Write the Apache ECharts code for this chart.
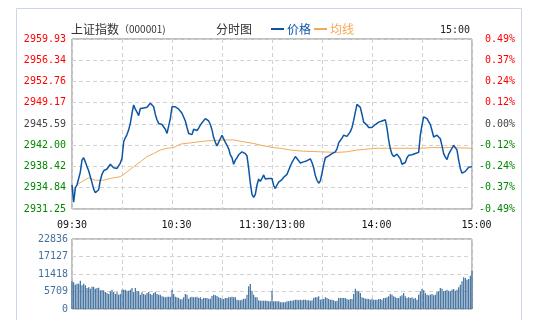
<!DOCTYPE html>
<html><head><meta charset="utf-8">
<script src="https://cdn.jsdelivr.net/npm/echarts@6/dist/echarts.min.js"></script>
<style>html,body{margin:0;padding:0;background:#fff}#c{width:535px;height:333px}</style>
</head><body><div id="c"></div>
<script>
const titleText = '上证指数';
const codeText = '（000001)';
const subTitle = '分时图';
const closeTime = '15:00';
const seriesNames = ['价格', '均线', '成交量'];
const timeLabels = ['09:30', '', '10:30', '', '11:30/13:00', '', '14:00', '', '15:00'];
const priceLabels = ['2931.25', '2934.84', '2938.42', '2942.00', '2945.59', '2949.17', '2952.76', '2956.34', '2959.93'];
const pctLabels = ['-0.49%', '-0.37%', '-0.24%', '-0.12%', '0.00%', '0.12%', '0.24%', '0.37%', '0.49%'];
const volLabels = ['0', '5709', '11418', '17127', '22836'];

// price per minute, index 0 = 09:30, 120 = 11:30/13:00, 240 = 15:00
const prices = [
2935.3,2932.4,2934.8,2935.3,2935.4,2937.5,2939.5,2939.9,2939.2,2938.4,
2937.7,2936.7,2935.7,2934.6,2934.0,2933.9,2934.5,2936.1,2937.1,2937.7,
2937.4,2938.0,2938.1,2938.8,2938.7,2938.2,2938.1,2938.1,2938.4,2939.0,
2939.8,2942.6,2943.3,2943.8,2944.6,2945.7,2947.4,2948.8,2948.1,2947.6,
2947.0,2948.2,2948.5,2948.3,2948.3,2948.4,2948.6,2949.1,2949.2,2948.5,
2947.2,2946.3,2945.7,2945.9,2945.5,2945.4,2944.7,2944.0,2943.8,2946.5,
2948.5,2948.6,2948.5,2948.3,2948.1,2947.8,2947.4,2947.2,2946.1,2945.0,
2944.0,2943.8,2943.8,2944.7,2945.0,2944.5,2944.9,2945.4,2945.8,2946.1,
2946.5,2946.4,2946.1,2945.5,2944.6,2943.3,2942.5,2941.9,2942.0,2943.1,
2943.7,2943.7,2942.5,2942.0,2941.4,2940.4,2939.9,2938.8,2939.5,2939.9,
2940.4,2940.7,2940.9,2940.8,2940.6,2940.2,2938.1,2935.6,2933.7,2933.2,
2933.7,2935.3,2936.3,2935.9,2936.4,2937.0,2936.3,2936.5,2936.4,2936.6,
2936.4,2935.2,2934.7,2935.3,2935.8,2936.0,2936.2,2936.6,2936.9,2937.1,
2937.8,2938.5,2939.1,2939.6,2940.1,2939.9,2939.4,2939.0,2939.1,2939.2,
2939.2,2939.4,2939.6,2939.7,2939.1,2938.2,2936.9,2936.1,2935.6,2936.0,
2937.3,2938.7,2939.9,2940.1,2940.2,2940.4,2940.6,2940.8,2940.9,2941.4,
2942.4,2942.8,2943.2,2943.7,2943.9,2943.5,2943.2,2944.3,2945.0,2946.2,
2947.6,2948.9,2949.2,2948.4,2947.2,2945.9,2946.2,2945.4,2945.0,2944.9,
2945.0,2945.1,2945.5,2945.7,2945.9,2946.0,2946.1,2946.3,2946.3,2944.9,
2942.9,2941.4,2940.5,2940.1,2940.4,2940.5,2940.5,2939.7,2938.8,2938.5,
2939.1,2939.9,2940.3,2940.4,2940.4,2940.5,2940.6,2940.9,2940.8,2943.7,
2945.4,2946.8,2946.9,2946.5,2946.2,2945.5,2944.5,2943.4,2943.5,2943.7,
2943.4,2943.1,2941.9,2940.6,2940.0,2939.6,2940.5,2941.0,2941.5,2942.0,
2941.6,2941.2,2939.5,2938.1,2937.3,2937.5,2937.6,2937.8,2938.3,2938.4,
2938.4
];

const avgMinutes = [0,3,6,10,14,19,23,29,33,37,41,45,49,53,57,61,65,71,79,85,91,97,103,109,115,121,125,131,139,149,159,165,171,179,183,195,210,215,229,240];
const avgPrices = [2934.0,2935.3,2935.9,2936.5,2936.1,2936.1,2936.4,2936.7,2937.5,2938.4,
2939.2,2940.1,2940.6,2941.2,2941.5,2941.6,2942.2,2942.4,2942.7,2942.8,
2942.9,2942.9,2942.6,2942.3,2941.9,2941.6,2941.5,2941.2,2941.0,2940.9,
2940.8,2940.9,2941.2,2941.4,2941.5,2941.5,2941.5,2941.6,2941.6,2941.5];

const volumes = [
9014,8688,7927,8253,8253,9231,7710,8253,7710,6840,
7057,6622,7275,7275,6622,6840,6949,6079,6079,6079,
5535,5209,4883,5752,6296,5535,4883,5427,4665,4883,
6296,6296,6296,5970,5970,6296,6840,5535,6840,5752,
5752,4665,5427,4883,4665,5209,5535,4883,4665,5209,
5535,4883,4665,4665,4121,4012,3795,4012,4012,4012,
6296,4883,4012,3795,3577,3142,3142,3795,4883,4665,
3360,3795,4012,3795,3795,4012,3577,3795,3251,3577,
3577,3577,3360,3360,4230,4665,4447,4230,3795,3577,
3360,3251,3577,3577,3795,3795,4012,3795,3795,3033,
2816,2816,3033,3360,3360,4665,7383,8144,5970,4665,
3795,3795,2816,2707,2707,2707,2707,2707,2489,2489,
5970,
2490,2490,2490,2490,2164,2164,2164,2164,2490,2490,
2707,2707,2816,3034,3034,2816,3034,2816,3034,3034,
2816,2816,2707,2816,3577,3794,3794,4121,3034,3251,
3251,3794,3577,3251,3034,3034,2816,2490,2707,3577,
3577,3577,3577,3577,3251,3034,3251,3251,4883,6622,
5970,5752,5208,3794,3577,3359,3359,3251,3034,3359,
3034,3034,3034,3251,3251,3034,3577,3577,3794,4121,
4883,4665,4121,3794,3577,3577,4121,4447,5208,4121,
3577,3794,3577,3794,3359,3577,3034,4665,5752,6514,
6078,5208,4665,4447,4665,4883,4447,4665,5534,5752,
6840,6622,5752,5970,6296,5970,5752,6296,6514,5970,
6296,7057,7927,9014,10319,10101,9558,9775,10862,12494
];

const PMIN = 2931.25, PMAX = 2959.93, PSTEP = 3.585;
const BLUE = '#0c55a6', ORANGE = '#f5a855', VOLC = '#40709e';
const MONO = 'DejaVu Sans Mono';
const CJK = 'Noto Sans CJK SC';
const idxOf = v => Math.round((v - PMIN) / PSTEP);
const rowColor = v => { const i = idxOf(v); return i > 4 ? '#ff0000' : (i === 4 ? '#444444' : '#008800'); };
const splitStyle = { show: true, lineStyle: { color: '#d2d2d2', type: [4, 3], width: 1 } };

const chart = echarts.init(document.getElementById('c'), null, { renderer: 'canvas' });
chart.setOption({
  animation: false,
  backgroundColor: '#fff',
  grid: [
    { left: 72, top: 39, width: 400, height: 170, show: true, borderColor: '#808080', borderWidth: 1, backgroundColor: 'transparent' },
    { left: 72, top: 239, width: 400, height: 70, show: true, borderColor: '#808080', borderWidth: 1, backgroundColor: 'transparent' }
  ],
  legend: {
    data: [
      { name: seriesNames[0], textStyle: { color: BLUE } },
      { name: seriesNames[1], textStyle: { color: ORANGE } }
    ],
    left: 271, top: 23, padding: 0, icon: 'rect', itemWidth: 13, itemHeight: 2, itemGap: 3,
    textStyle: { fontFamily: CJK, fontSize: 12, padding: [0, 0, 0, -2] }
  },
  xAxis: [
    { type: 'value', gridIndex: 0, min: 0, max: 240, interval: 30,
      axisLine: { show: false }, axisTick: { show: false }, splitLine: splitStyle,
      axisLabel: { margin: 11, fontFamily: MONO, fontSize: 10, color: '#111',
        formatter: v => { const t = timeLabels[Math.round(v / 30)] || ''; if (!t) return ''; return (v === 0 || v === 120) ? '{n|' + t + '}' : '{r|' + t + '}'; },
        rich: { n: { fontFamily: MONO, fontSize: 10, color: '#111' }, r: { fontFamily: MONO, fontSize: 10, color: '#111', padding: [0, 0, 0, 9] } } } },
    { type: 'value', gridIndex: 1, min: 0, max: 240, interval: 30,
      axisLine: { show: false }, axisTick: { show: false }, splitLine: splitStyle, axisLabel: { show: false } }
  ],
  yAxis: [
    { type: 'value', gridIndex: 0, min: PMIN, max: PMAX, interval: PSTEP,
      axisLine: { show: false }, axisTick: { show: false }, splitLine: splitStyle,
      axisLabel: { margin: 6, fontFamily: MONO, fontSize: 10, color: v => rowColor(v), formatter: v => priceLabels[idxOf(v)] } },
    { type: 'value', gridIndex: 0, position: 'right', min: PMIN, max: PMAX, interval: PSTEP,
      axisLine: { show: false }, axisTick: { show: false }, splitLine: { show: false },
      axisLabel: { margin: 43, align: 'right', fontFamily: MONO, fontSize: 10, color: v => rowColor(v), formatter: v => pctLabels[idxOf(v)] } },
    { type: 'value', gridIndex: 1, min: 0, max: 22836, interval: 5709,
      axisLine: { show: false }, axisTick: { show: false }, splitLine: splitStyle,
      axisLabel: { margin: 4, fontFamily: MONO, fontSize: 10, color: '#44709c', formatter: v => volLabels[Math.round(v / 5709)] } }
  ],
  series: [
    { name: seriesNames[0], type: 'line', xAxisIndex: 0, yAxisIndex: 0, color: BLUE,
      data: prices.map((p, i) => [i, p]), showSymbol: false, lineStyle: { color: BLUE, width: 1.5 }, z: 4 },
    { name: seriesNames[1], type: 'line', xAxisIndex: 0, yAxisIndex: 0, color: ORANGE,
      data: avgMinutes.map((m, i) => [m, avgPrices[i]]), showSymbol: false, lineStyle: { color: ORANGE, width: 1 }, z: 3 },
    { name: seriesNames[2], type: 'bar', xAxisIndex: 1, yAxisIndex: 2, barWidth: 1.2,
      data: volumes.map((v, i) => [i, v]), itemStyle: { color: VOLC } }
  ],
  graphic: [
    { type: 'polyline', silent: true, shape: { points: [[16.5, 320], [16.5, 8.5], [521.5, 8.5], [521.5, 320]] }, style: { stroke: '#c9d6e8', fill: null, lineWidth: 1 } },
    { type: 'text', left: 71, top: 23, style: { text: '{a|' + titleText + '}{b|' + codeText + '}',
      rich: { a: { fontFamily: CJK, fontSize: 12, fill: '#333' }, b: { fontFamily: CJK, fontSize: 10, fill: '#333' } } } },
    { type: 'text', left: 216, top: 23, style: { text: subTitle, fontFamily: CJK, fontSize: 12, fill: '#333' } },
    { type: 'text', right: 65, top: 25, style: { text: closeTime, fontFamily: MONO, fontSize: 10, fill: '#222' } }
  ]
});
</script>
</body></html>
